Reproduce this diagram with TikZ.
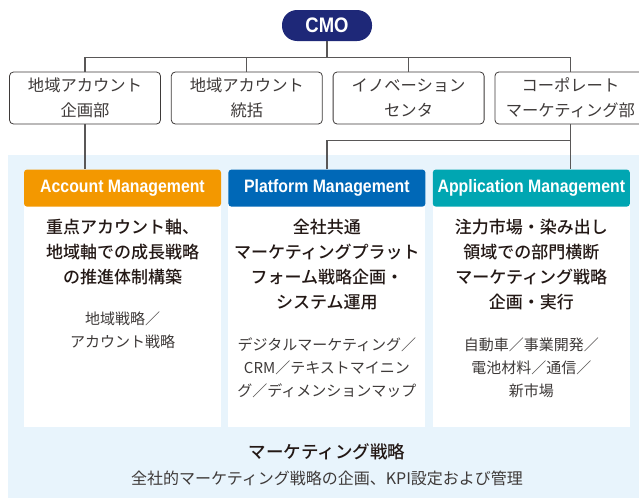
\documentclass[tikz,border=0pt]{standalone}
\usepackage{fontspec}
\setmainfont{Noto Sans CJK JP}
\IfFontExistsTF{Noto Sans CJK JP Medium}
  {\newfontfamily\jpmed{Noto Sans CJK JP Medium}}
  {\newcommand\jpmed{\bfseries}}
\newfontfamily\hdfont[FakeStretch=0.88]{Liberation Sans}
\usepackage{xcolor}
\usetikzlibrary{positioning}

\definecolor{navy}{RGB}{30,40,120}
\definecolor{acctorange}{RGB}{243,152,0}
\definecolor{platblue}{RGB}{0,104,183}
\definecolor{appteal}{RGB}{0,166,178}
\definecolor{bgblue}{RGB}{232,244,252}
\definecolor{linegray}{RGB}{89,87,87}
\definecolor{inkblack}{RGB}{35,24,21}
\definecolor{inkgray}{RGB}{62,58,57}

\begin{document}
\begin{tikzpicture}[
  x=1pt, y=-1pt,
  node distance=10pt,
  cmo/.style={fill=navy, rounded corners=15pt, minimum width=90pt, minimum height=31pt,
              text=white, font=\hdfont\bfseries\fontsize{21}{21}\selectfont},
  orgbox/.style={draw=inkgray, line width=0.8pt, rounded corners=4pt, fill=white,
                 minimum width=151pt, minimum height=52pt, inner sep=0pt,
                 align=center, text=inkgray, font=\fontsize{16.3}{25}\selectfont},
  panel/.style={fill=white, minimum width=197pt, minimum height=224pt, inner sep=0pt},
  hdr/.style={rounded corners=3pt, minimum width=197pt, minimum height=37pt, inner sep=0pt,
              text=white, font=\hdfont\bfseries\fontsize{18}{18}\selectfont},
  maintxt/.style={align=center, inner sep=0pt, text=inkblack,
                  font=\jpmed\fontsize{17}{25}\selectfont},
  subtxt/.style={align=center, inner sep=0pt, text=inkgray,
                 font=\fontsize{15}{23}\selectfont},
  link/.style={draw=linegray, line width=1.3pt}
]
\useasboundingbox (0,0) rectangle (639,498);
\fill[bgblue] (8,155) rectangle (639,498);

% top of the chart
\node[cmo] (cmo) at (327,25.5) {CMO};
\coordinate[below=16pt of cmo] (bus);
\node[orgbox] (b1) at (85,98) {地域アカウント\\企画部};
\node[orgbox, right=of b1] (b2) {地域アカウント\\統括};
\node[orgbox, right=of b2] (b3) {イノベーション\\センタ};
\node[orgbox, right=of b3] (b4) {コーポレート\\マーケティング部};

% three panels
\node[panel] (bodyA) at (122.5,315) {};
\node[panel, right=7pt of bodyA] (bodyP) {};
\node[panel, right=7pt of bodyP] (bodyT) {};
\node[hdr, fill=acctorange, above=-4pt of bodyA] (hdA) {Account Management};
\node[hdr, fill=platblue, above=-4pt of bodyP] (hdP) {Platform Management};
\node[hdr, fill=appteal, above=-4pt of bodyT] (hdT) {Application Management};

\node[maintxt, below=12pt of hdA] (mainA) {重点アカウント軸、\\地域軸での成長戦略\\の推進体制構築};
\node[maintxt, below=12pt of hdP] (mainP) {全社共通\\マーケティングプラット\\フォーム戦略企画・\\システム運用};
\node[maintxt, below=12pt of hdT] (mainT) {注力市場・染み出し\\領域での部門横断\\マーケティング戦略\\企画・実行};

\node[subtxt, below=27pt of mainA] (subA) {地域戦略／\\アカウント戦略};
\node[subtxt, below=27pt of mainP] (subP) {デジタルマーケティング／\\CRM／テキストマイニン\\グ／ディメンションマップ};
\node[subtxt, below=27pt of mainT] (subT) {自動車／事業開発／\\電池材料／通信／\\新市場};

% bottom caption
\node[text=inkblack, font=\jpmed\fontsize{17.5}{20}\selectfont] (strat) at (327,452) {マーケティング戦略};
\node[text=inkgray, font=\fontsize{16}{20}\selectfont] (stratsub) at (327,478) {全社的マーケティング戦略の企画、KPI設定および管理};

% connectors
\draw[link] (cmo) -- (bus);
\draw[link] (b1.north) |- (bus) -| (b4.north);
\foreach \b in {b2,b3}
  \draw[link] (\b.north) -- (\b.north |- bus);
\draw[link] (b1.south) -- (b1.south |- hdA.north);
\draw[link] (b4.south) -- (b4.south |- hdT.north);
\draw[link] (hdP.north) -- ++(0,-29) -| (b4.south);
\end{tikzpicture}
\end{document}
